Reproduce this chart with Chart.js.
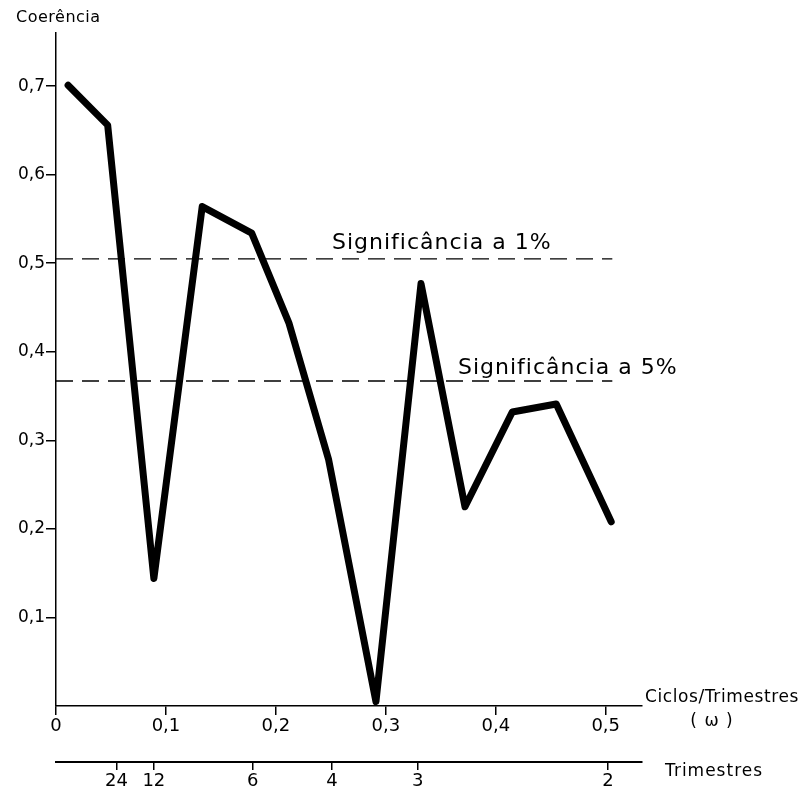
<!DOCTYPE html>
<html>
<head>
<meta charset="utf-8">
<script src="https://cdn.jsdelivr.net/npm/chart.js@4/dist/chart.umd.min.js"></script>
<style>
  html, body { margin: 0; padding: 0; background: #fff; }
  #wrap { width: 804px; height: 796px; position: relative; }
</style>
</head>
<body>
<div id="wrap"><canvas id="coerencia"></canvas></div>
<script>
// frequência (ciclos/trimestre) e coerência
var freq = [0.011, 0.047, 0.089, 0.133, 0.178, 0.212, 0.248, 0.291, 0.332, 0.372, 0.415, 0.455, 0.505];
var coer = [0.701, 0.656, 0.144, 0.564, 0.534, 0.432, 0.278, 0.005, 0.477, 0.225, 0.332, 0.341, 0.208];

// limites de significância
var sig1 = 0.505;
var sig5 = 0.367;
var sigRange = [0, 0.506];

var yTicks = [0.1, 0.2, 0.3, 0.4, 0.5, 0.6, 0.7];
var xTicks = [0, 0.1, 0.2, 0.3, 0.4, 0.5];
// eixo de períodos (trimestres) e a frequência onde cada marca aparece
var trimLabels = ['24', '12', '6', '4', '3', '2'];
var trimPos = [0.055, 0.089, 0.179, 0.251, 0.329, 0.502];

function virgula(v) {
  return v === 0 ? '0' : String(v).replace('.', ',');
}

var FONT = '"DejaVu Sans", sans-serif';

var textos = {
  id: 'textos',
  afterDraw: function (chart) {
    var c = chart.ctx;
    c.save();
    c.fillStyle = '#000';
    c.textBaseline = 'middle';
    c.textAlign = 'left';
    c.font = '16px ' + FONT;
    c.letterSpacing = '0.5px';
    c.fillText('Coerência', 16, 18);
    c.font = '17px ' + FONT;
    c.letterSpacing = '0.6px';
    c.fillText('Ciclos/Trimestres', 645, 698);
    c.letterSpacing = '1px';
    c.fillText('Trimestres', 665, 772);
    c.textAlign = 'center';
    c.fillText('( ω )', 712, 722);
    c.textAlign = 'left';
    c.font = '22px ' + FONT;
    c.letterSpacing = '1px';
    c.fillText('Significância a 1%', 332, 243);
    c.fillText('Significância a 5%', 458, 368);
    c.restore();
  }
};

var ctx = document.getElementById('coerencia').getContext('2d');
var chart = new Chart(ctx, {
  type: 'line',
  data: {
    datasets: [{
      data: freq.map(function (f, i) { return { x: f, y: coer[i] }; }),
      borderColor: '#000',
      borderWidth: 7,
      borderJoinStyle: 'round',
      borderCapStyle: 'round',
      pointRadius: 0,
      tension: 0
    }, {
      data: sigRange.map(function (f) { return { x: f, y: sig1 }; }),
      borderColor: '#000',
      borderWidth: 1.3,
      borderDash: [17, 9],
      pointRadius: 0
    }, {
      data: sigRange.map(function (f) { return { x: f, y: sig5 }; }),
      borderColor: '#000',
      borderWidth: 1.3,
      borderDash: [17, 9],
      pointRadius: 0
    }]
  },
  options: {
    responsive: true,
    maintainAspectRatio: false,
    animation: false,
    layout: { padding: { top: 33, right: 162, left: 0, bottom: 0 } },
    plugins: { legend: { display: false }, tooltip: { enabled: false } },
    scales: {
      y: {
        type: 'linear',
        min: 0,
        max: 0.76,
        afterBuildTicks: function (s) { s.ticks = yTicks.map(function (v) { return { value: v }; }); },
        afterFit: function (s) { s.width = 56; },
        grid: { drawOnChartArea: false, tickLength: 10, color: '#000', lineWidth: 1.5 },
        border: { color: '#000', width: 1.5 },
        ticks: {
          color: '#000',
          padding: 1,
          font: { family: FONT, size: 17 },
          callback: function (v) { return virgula(v); }
        }
      },
      x: {
        type: 'linear',
        position: 'bottom',
        weight: 0,
        min: 0,
        max: 0.533,
        afterBuildTicks: function (s) { s.ticks = xTicks.map(function (v) { return { value: v }; }); },
        afterFit: function (s) { s.height = 56; },
        grid: { drawOnChartArea: false, tickLength: 9, color: '#000', lineWidth: 1.5 },
        border: { color: '#000', width: 1.5 },
        ticks: {
          color: '#000',
          padding: 1,
          maxRotation: 0,
          font: { family: FONT, size: 18 },
          callback: function (v) { return virgula(v); }
        }
      },
      x2: {
        type: 'linear',
        position: 'bottom',
        weight: 1,
        min: 0,
        max: 0.533,
        afterBuildTicks: function (s) { s.ticks = trimPos.map(function (v) { return { value: v }; }); },
        afterFit: function (s) { s.height = 34; },
        grid: { drawOnChartArea: false, tickLength: 8, color: '#000', lineWidth: 1.5 },
        border: { color: '#000', width: 2 },
        ticks: {
          color: '#000',
          padding: 1,
          maxRotation: 0,
          autoSkip: false,
          font: { family: FONT, size: 18 },
          callback: function (v, i) { return trimLabels[i]; }
        }
      }
    }
  },
  plugins: [textos]
});
</script>
</body>
</html>
